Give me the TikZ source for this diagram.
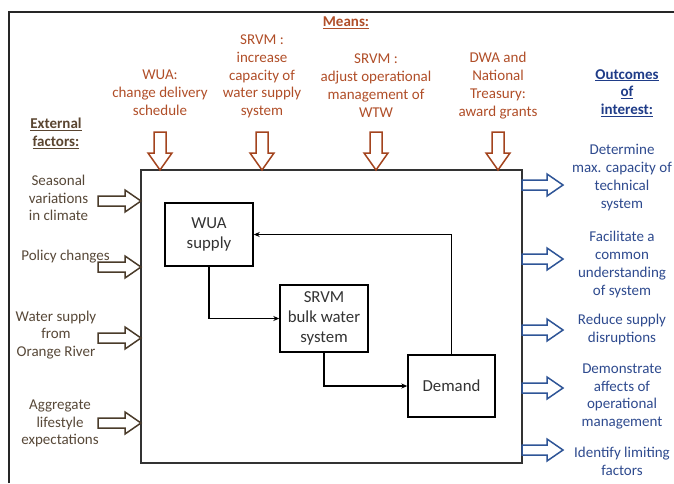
\documentclass[tikz,border=0pt]{standalone}
\usepackage{fontspec}
\setmainfont{Carlito}
\usetikzlibrary{arrows.meta}
\definecolor{rust}{HTML}{B04E28}
\definecolor{rustarrow}{HTML}{A3441E}
\definecolor{lefttext}{HTML}{574838}
\definecolor{leftarrow}{HTML}{4A3B2A}
\definecolor{exttext}{HTML}{5A4530}
\definecolor{righttext}{HTML}{2E4A8E}
\definecolor{rightarrow}{HTML}{2F5597}
\definecolor{outtext}{HTML}{1F3C88}
\begin{document}
\begin{tikzpicture}[x=1pt,y=-1pt,
  every node/.style={font=\fontsize{15}{17.8}\selectfont, align=center, inner sep=0pt},
  frame/.style={line width=1.6pt, draw=black!85},
  mainbox/.style={draw=black!80, line width=1.4pt, fill=white},
  box/.style={draw=black, line width=1.4pt, fill=white, text=black!80, font=\fontsize{16.8}{20}\selectfont},
  conn/.style={draw=black, line width=1.3pt, -{Stealth[length=6pt,width=5pt]}},
  meanslbl/.style={text=rust},
  leftlbl/.style={text=lefttext},
  rightlbl/.style={text=righttext},
  hollow/.style={line width=1.5pt, fill=white},
  pics/downarrow/.style={code={
    \draw[hollow, draw=rustarrow] (-6,-38) -- (6,-38) -- (6,-17) -- (12,-17) -- (0,0) -- (-12,-17) -- (-6,-17) -- cycle;}},
  pics/inarrow/.style={code={
    \draw[hollow, draw=leftarrow] (-43,-5) -- (-16,-5) -- (-16,-11) -- (0,0) -- (-16,11) -- (-16,5) -- (-43,5) -- cycle;}},
  pics/outarrow/.style={code={
    \draw[hollow, draw=rightarrow] (0,-5) -- (25,-5) -- (25,-11) -- (41,0) -- (25,11) -- (25,5) -- (0,5) -- cycle;}}
]
\useasboundingbox (0,0) rectangle (674,483);
\draw[frame] (9,483) -- (9,12) -- (674,12);

% main system box
\node[mainbox, minimum width=381, minimum height=293] (sys) at (331.5,316.5) {};

% inner boxes
\node[box, minimum width=88, minimum height=63] (wua) at (209,234.5) {WUA\\supply};
\node[box, minimum width=88, minimum height=67] (srvm) at (324,318.5) {SRVM\\bulk water\\system};
\node[box, minimum width=87, minimum height=62] (dem) at (451.5,386) {Demand};

\draw[conn] (wua.south) |- (srvm.west);
\draw[conn] (srvm.south) |- (dem.west);
\draw[conn] (dem.north) |- (wua.east);

% means
\node[text=rust, font=\fontsize{15}{17.8}\selectfont\bfseries] (means) at (346,23) {\underline{Means:}};
\node[meanslbl] (m1) at (160,93) {WUA:\\change delivery\\schedule};
\node[meanslbl] (m2) at (262,76.5) {SRVM :\\increase\\capacity of\\water supply\\system};
\node[meanslbl] (m3) at (376,85.5) {SRVM :\\adjust operational\\management of\\WTW};
\node[meanslbl] (m4) at (498,85.5) {DWA and\\National\\Treasury:\\award grants};
\pic at (160,170) {downarrow};
\pic at (262,170) {downarrow};
\pic at (376,170) {downarrow};
\pic at (498,170) {downarrow};

% external factors
\node[text=exttext, font=\fontsize{15}{17.8}\selectfont\bfseries] (ext) at (56,133.5) {\underline{External}\\\underline{factors:}};
\node[leftlbl] (l1) at (58.5,198) {Seasonal\\variations\\in climate};
\node[leftlbl] (l2) at (65.5,257) {Policy changes};
\node[leftlbl] (l3) at (56,335) {Water supply\\from\\Orange River};
\node[leftlbl] (l4) at (60,423.5) {Aggregate\\lifestyle\\expectations};
\pic at (141,201) {inarrow};
\pic at (141,267) {inarrow};
\pic at (141,338) {inarrow};
\pic at (141,423) {inarrow};

% outcomes
\node[text=outtext, font=\fontsize{15}{17.8}\selectfont\bfseries] (out) at (627,93) {\underline{Outcomes}\\\underline{of}\\\underline{interest:}};
\node[rightlbl] (r1) at (622,177.5) {Determine\\max. capacity of\\technical\\system};
\node[rightlbl] (r2) at (622,264.5) {Facilitate a\\common\\understanding\\of system};
\node[rightlbl] (r3) at (622,329.5) {Reduce supply\\disruptions};
\node[rightlbl] (r4) at (622,396.5) {Demonstrate\\affects of\\operational\\management};
\node[rightlbl] (r5) at (622,461) {Identify limiting\\factors};
\pic at (522,185) {outarrow};
\pic at (522,259) {outarrow};
\pic at (522,330) {outarrow};
\pic at (522,388) {outarrow};
\pic at (522,450) {outarrow};
\end{tikzpicture}
\end{document}
